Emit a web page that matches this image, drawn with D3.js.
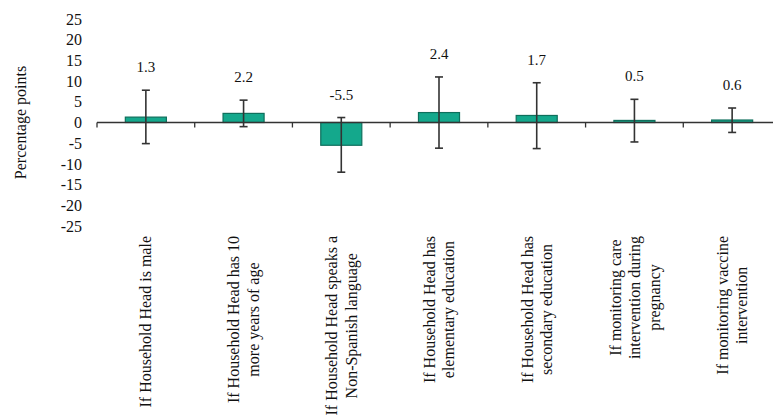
<!DOCTYPE html>
<html>
<head>
<meta charset="utf-8">
<script src="https://cdn.jsdelivr.net/npm/d3@7"></script>
<style>
  html, body { margin: 0; padding: 0; background: #fff; }
  svg { display: block; font-family: "Liberation Serif", "DejaVu Serif", serif; }
</style>
</head>
<body>
<svg id="chart" width="773" height="416"></svg>
<script>
// ---- data ----
const categories = [
  ["If Household Head is male"],
  ["If Household Head has 10", "more years of age"],
  ["If Household Head speaks a", "Non-Spanish language"],
  ["If Household Head has", "elementary education"],
  ["If Household Head has", "secondary education"],
  ["If monitoring care", "intervention during", "pregnancy"],
  ["If monitoring vaccine", "intervention"]
];
const values = [1.3, 2.2, -5.5, 2.4, 1.7, 0.5, 0.6];
const upperCI = [7.8, 5.4, 1.2, 11.0, 9.6, 5.6, 3.5];
const lowerCI = [-5.1, -1.0, -12.0, -6.2, -6.3, -4.7, -2.4];
const valueLabels = ["1.3", "2.2", "-5.5", "2.4", "1.7", "0.5", "0.6"];
const yTicks = [25, 20, 15, 10, 5, 0, -5, -10, -15, -20, -25];
const yTitle = "Percentage points";

// ---- layout ----
const svg = d3.select("#chart");
const ids = d3.range(categories.length);
const x = d3.scaleBand().domain(ids).range([97, 781]).padding(0);
const y = d3.scaleLinear().domain([-25, 25]).range([226, 19]);
const barW = x.bandwidth() * 0.42;
const cx = i => x(i) + x.bandwidth() / 2;

// y axis: labels only
const yAxis = d3.axisLeft(y).tickValues(yTicks).tickSize(0).tickPadding(0).tickFormat(d => String(d));
const yg = svg.append("g").attr("transform", "translate(82,0)").call(yAxis);
yg.attr("font-family", null);
yg.select(".domain").remove();
yg.selectAll("text").attr("font-size", 16).attr("font-family", "Liberation Serif").attr("fill", "#111");

// y title
svg.append("text")
  .attr("transform", `translate(26,${y(0)}) rotate(-90)`)
  .attr("text-anchor", "middle")
  .attr("font-size", 16).attr("fill", "#111")
  .text(yTitle);

// bars
svg.append("g").selectAll("rect").data(ids).join("rect")
  .attr("x", i => cx(i) - barW / 2)
  .attr("width", barW)
  .attr("y", i => y(Math.max(0, values[i])))
  .attr("height", i => Math.abs(y(values[i]) - y(0)))
  .attr("fill", "#14a88c")
  .attr("stroke", "#0e6f5c")
  .attr("stroke-width", 1.2);

// x axis at zero with ticks at band boundaries
const xg = svg.append("g").attr("transform", `translate(0,${y(0)})`);
xg.append("line").attr("x1", 97).attr("x2", 773).attr("y1", 0).attr("y2", 0)
  .attr("stroke", "#333").attr("stroke-width", 1.5);
xg.selectAll("line.tk").data(d3.range(categories.length + 1)).join("line")
  .attr("class", "tk")
  .attr("x1", i => 97 + i * x.bandwidth()).attr("x2", i => 97 + i * x.bandwidth())
  .attr("y1", 0).attr("y2", 5)
  .attr("stroke", "#333").attr("stroke-width", 1.3);

// error bars
const eg = svg.append("g").attr("stroke", "#333").attr("stroke-width", 1.6);
eg.selectAll("line.v").data(ids).join("line").attr("class", "v")
  .attr("x1", cx).attr("x2", cx)
  .attr("y1", i => y(upperCI[i])).attr("y2", i => y(lowerCI[i]));
eg.selectAll("line.t").data(ids).join("line").attr("class", "t")
  .attr("x1", i => cx(i) - 4).attr("x2", i => cx(i) + 4)
  .attr("y1", i => y(upperCI[i])).attr("y2", i => y(upperCI[i]));
eg.selectAll("line.b").data(ids).join("line").attr("class", "b")
  .attr("x1", i => cx(i) - 4).attr("x2", i => cx(i) + 4)
  .attr("y1", i => y(lowerCI[i])).attr("y2", i => y(lowerCI[i]));

// value labels
svg.append("g").selectAll("text").data(ids).join("text")
  .attr("x", cx)
  .attr("y", i => y(upperCI[i]) - 18)
  .attr("text-anchor", "middle")
  .attr("font-size", 15).attr("fill", "#111")
  .text(i => valueLabels[i]);

// category labels (rotated, top-aligned, lines centered)
const lineH = 19.5;
const labelTop = 236;
ids.forEach(i => {
  const lines = categories[i];
  const g = svg.append("g").attr("transform", `translate(${cx(i)},${labelTop}) rotate(-90)`);
  const texts = g.selectAll("text").data(lines).join("text")
    .attr("font-size", 16).attr("fill", "#111")
    .attr("text-anchor", "middle")
    .attr("dy", "0.35em")
    .text(d => d);
  let maxLen = 0;
  texts.each(function () { maxLen = Math.max(maxLen, this.getComputedTextLength()); });
  const n = lines.length;
  texts.attr("x", -maxLen / 2)
       .attr("y", (d, j) => (j - (n - 1) / 2) * lineH);
});
</script>
</body>
</html>
